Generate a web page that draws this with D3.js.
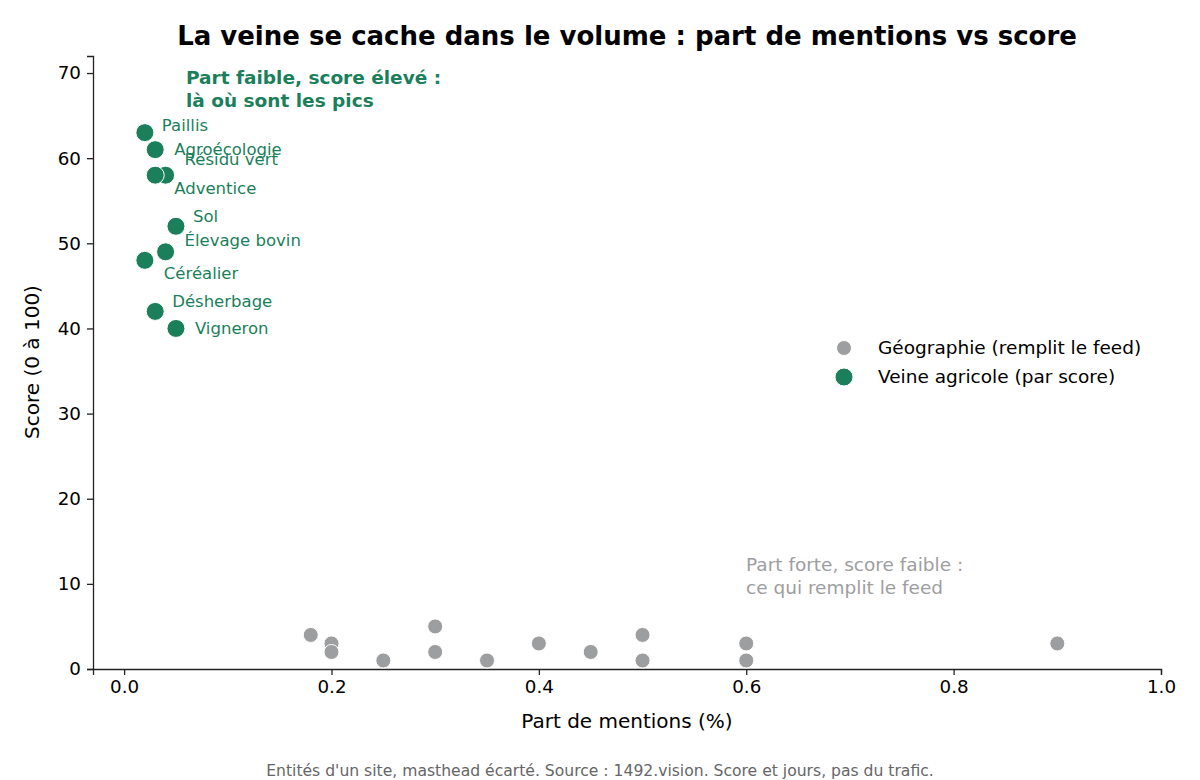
<!DOCTYPE html>
<html>
<head>
<meta charset="UTF-8">
<title>La veine se cache dans le volume</title>
<style>
  body { margin: 0; background: #fff; }
  svg text { font-family: "DejaVu Sans", sans-serif; }
</style>
</head>
<body>
<svg width="1200" height="780"></svg>
<script src="https://cdn.jsdelivr.net/npm/d3@7/dist/d3.min.js"></script>
<script>
// points géographiques (part %, score)
var geoShare = [0.18, 0.2, 0.2, 0.25, 0.3, 0.3, 0.35, 0.4, 0.45, 0.5, 0.5, 0.6, 0.6, 0.9];
var geoScore = [4, 3, 2, 1, 5, 2, 1, 3, 2, 4, 1, 3, 1, 3];

// veine agricole
var agriNames = ["Paillis", "Agroécologie", "Résidu vert", "Adventice", "Sol", "Élevage bovin", "Céréalier", "Désherbage", "Vigneron"];
var agriShare = [0.02, 0.03, 0.04, 0.03, 0.05, 0.04, 0.02, 0.03, 0.05];
var agriScore = [63, 61, 58, 58, 52, 49, 48, 42, 40];

var xTicks = [0, 0.2, 0.4, 0.6, 0.8, 1.0];
var yTicks = [0, 10, 20, 30, 40, 50, 60, 70];

// décalage des étiquettes (px), façon adjustText
var labelOffset = {
  "Paillis": [17, -7], "Agroécologie": [19, 0], "Résidu vert": [19, -16],
  "Adventice": [19, 13], "Sol": [17, -10], "Élevage bovin": [19, -12],
  "Céréalier": [19, 13], "Désherbage": [17, -10], "Vigneron": [19, 0]
};

var green = "#1b7f5b", grey = "#9d9ea0";
var svg = d3.select("svg");
var x = d3.scaleLinear().domain([-0.03, 1.0]).range([93, 1161]);
var y = d3.scaleLinear().domain([0, 72]).range([669, 56]);

// axes
svg.append("g").attr("transform", "translate(0,669)")
  .call(d3.axisBottom(x).tickValues(xTicks).tickFormat(d3.format(".1f")).tickSizeOuter(0).tickSize(6).tickPadding(5))
  .call(function(g) { g.selectAll("text").attr("font-size", 18.3).attr("fill", "#000"); });
svg.append("g").attr("transform", "translate(93,0)")
  .call(d3.axisLeft(y).tickValues(yTicks).tickSizeOuter(0).tickSize(6).tickPadding(6))
  .call(function(g) { g.selectAll("text").attr("font-size", 18.3).attr("fill", "#000"); });
svg.selectAll(".domain, .tick line").attr("stroke", "#222").attr("stroke-width", 1.3);

// titres
svg.append("text").attr("x", 627).attr("y", 45).attr("text-anchor", "middle")
  .attr("font-size", 26).attr("font-weight", "bold").text("La veine se cache dans le volume : part de mentions vs score");
svg.append("text").attr("x", 627).attr("y", 728).attr("text-anchor", "middle")
  .attr("font-size", 20).text("Part de mentions (%)");
svg.append("text").attr("transform", "translate(39,362) rotate(-90)").attr("text-anchor", "middle")
  .attr("font-size", 20).text("Score (0 à 100)");
svg.append("text").attr("x", 600).attr("y", 776).attr("text-anchor", "middle")
  .attr("font-size", 15.6).attr("fill", "#666").text("Entités d'un site, masthead écarté. Source : 1492.vision. Score et jours, pas du trafic.");

// points gris
svg.append("g").selectAll("circle").data(geoShare).join("circle")
  .attr("cx", function(d) { return x(d); })
  .attr("cy", function(d, i) { return y(geoScore[i]); })
  .attr("r", 7.5).attr("fill", grey).attr("stroke", "#fff").attr("stroke-width", 1);

// points verts + étiquettes
var agri = svg.append("g");
agri.selectAll("circle").data(agriNames).join("circle")
  .attr("cx", function(d, i) { return x(agriShare[i]); })
  .attr("cy", function(d, i) { return y(agriScore[i]); })
  .attr("r", 9).attr("fill", green).attr("stroke", "#fff").attr("stroke-width", 1);
agri.selectAll("text").data(agriNames).join("text")
  .attr("x", function(d, i) { return x(agriShare[i]) + labelOffset[d][0]; })
  .attr("y", function(d, i) { return y(agriScore[i]) + labelOffset[d][1]; })
  .attr("dy", "0.35em").attr("font-size", 16.5).attr("fill", green).text(function(d) { return d; });

// annotations
var a1 = svg.append("text").attr("font-size", 18.5).attr("font-weight", "bold").attr("fill", green);
a1.append("tspan").attr("x", 186).attr("y", 84).text("Part faible, score élevé :");
a1.append("tspan").attr("x", 186).attr("y", 107).text("là où sont les pics");
var a2 = svg.append("text").attr("font-size", 18.5).attr("fill", grey);
a2.append("tspan").attr("x", 746).attr("y", 571).text("Part forte, score faible :");
a2.append("tspan").attr("x", 746).attr("y", 594).text("ce qui remplit le feed");

// légende
var legend = [["Géographie (remplit le feed)", grey, 7.5], ["Veine agricole (par score)", green, 9]];
var lg = svg.append("g").selectAll("g").data(legend).join("g")
  .attr("transform", function(d, i) { return "translate(844," + (348 + i * 29) + ")"; });
lg.append("circle").attr("r", function(d) { return d[2]; }).attr("fill", function(d) { return d[1]; })
  .attr("stroke", "#fff").attr("stroke-width", 1);
lg.append("text").attr("x", 34).attr("dy", "0.35em").attr("font-size", 18.5).text(function(d) { return d[0]; });
</script>
</body>
</html>
